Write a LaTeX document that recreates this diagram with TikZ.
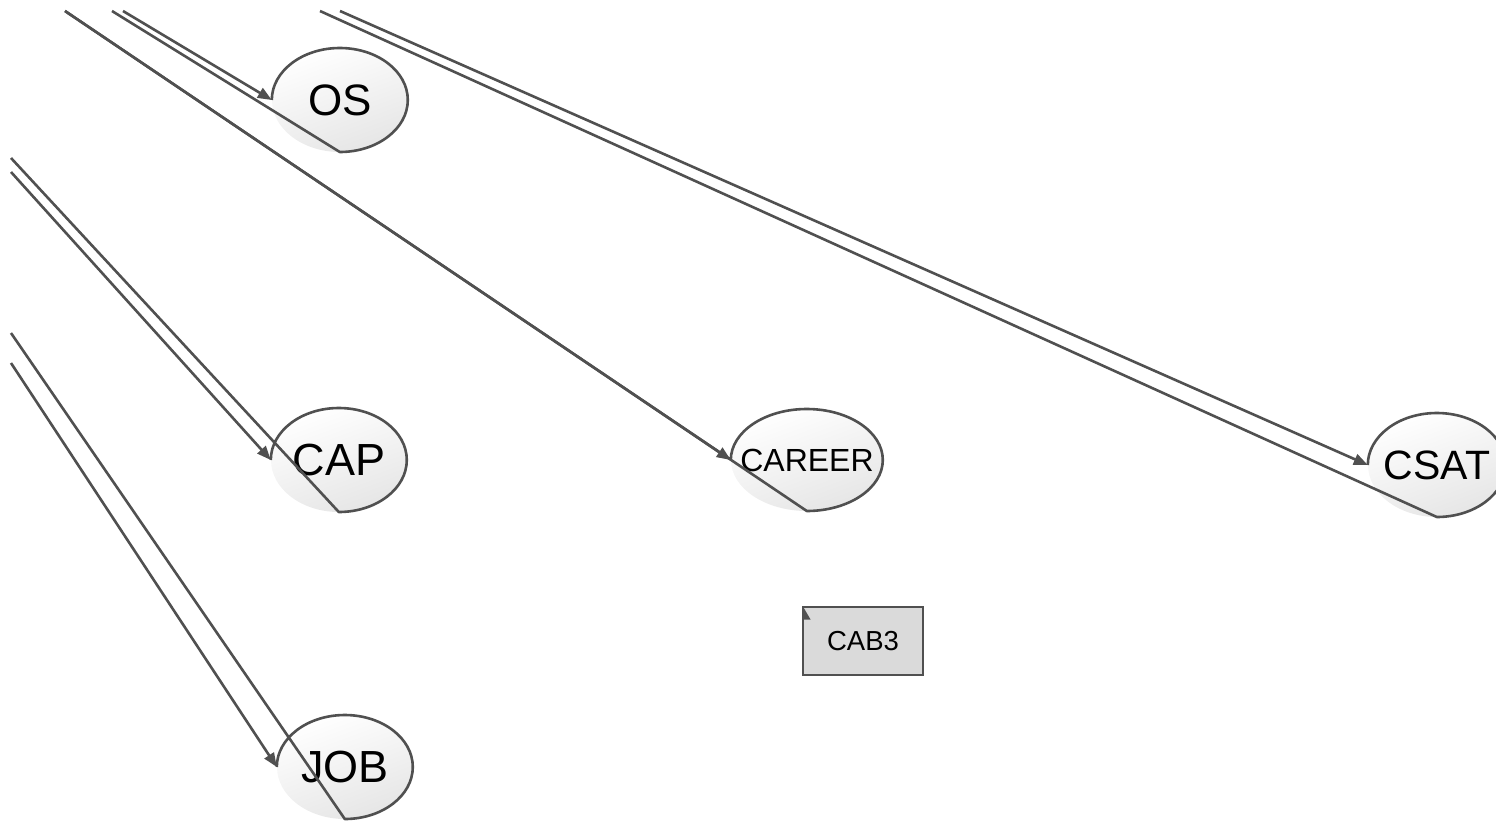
\documentclass[tikz,border=0pt]{standalone}
\usepackage{fontspec}
\setmainfont{Liberation Sans}
\usetikzlibrary{arrows.meta,shapes.geometric}

\definecolor{edge}{HTML}{505050}
\definecolor{boxfill}{HTML}{DADADA}

\tikzset{
  latent/.style={ellipse, inner sep=0pt, top color=white, bottom color=black!10,
                 shading angle=20},
  ln/.style={draw=edge, line width=2.6pt, line join=round},
  arr/.style={ln, -{Triangle[length=14pt,width=11pt]}},
  observed/.style={rectangle, draw=edge, line width=2.8pt, fill=boxfill,
                   minimum width=120pt, minimum height=68pt, inner sep=0pt,
                   font=\fontsize{27.5}{27.5}\selectfont},
}
% label of fixed zero width, so the ellipse keeps its given size
\newcommand{\lbl}[1]{\makebox[0pt]{#1}}

\begin{document}
\begin{tikzpicture}[x=1pt,y=-1pt]
  \useasboundingbox (0,0) rectangle (1496,822);
  \clip (0,0) rectangle (1496,822);

  % latent variables
  \node[latent, minimum width=136pt, minimum height=104pt,
        font=\fontsize{44}{44}\selectfont] (os) at (340,100) {\lbl{OS}};
  \node[latent, minimum width=136pt, minimum height=104pt,
        font=\fontsize{45}{45}\selectfont] (cap) at (339,460) {\lbl{CAP}};
  \node[latent, minimum width=136pt, minimum height=104pt,
        font=\fontsize{45}{45}\selectfont] (job) at (345,767) {\lbl{JOB}};
  \node[latent, minimum width=152pt, minimum height=102pt,
        font=\fontsize{32}{32}\selectfont] (car) at (807,460) {\lbl{CAREER}};
  \node[latent, minimum width=138pt, minimum height=104pt,
        font=\fontsize{41}{41}\selectfont] (csat) at (1437,465) {\lbl{CSAT}};

  % observed variable
  \node[observed] (cab) at (863,641) {CAB3};
  \fill[edge] ([shift={(2pt,-2pt)}]cab.north west) -- ++(7pt,-12pt) -- ++(-7pt,0pt) -- cycle;

  % path origins at the picture edge
  \coordinate (sOSa)  at (123,11);
  \coordinate (sOSb)  at (112,11);
  \coordinate (sCAR)  at (65,11);
  \coordinate (sCSa)  at (340,11);
  \coordinate (sCSb)  at (320,11);
  \coordinate (sCAPa) at (11,172);
  \coordinate (sCAPb) at (11,158);
  \coordinate (sJOBa) at (11,363);
  \coordinate (sJOBb) at (11,333);

  % outlines: arc from west over the top to south, then back to the origin
  \draw[ln] (os.west) arc[start angle=180, end angle=-90, x radius=68pt, y radius=52pt] -- (sOSb);
  \draw[ln] (cap.west) arc[start angle=180, end angle=-90, x radius=68pt, y radius=52pt] -- (sCAPb);
  \draw[ln] (job.west) arc[start angle=180, end angle=-90, x radius=68pt, y radius=52pt] -- (sJOBb);
  \draw[ln] (car.west) arc[start angle=180, end angle=-90, x radius=76pt, y radius=51pt] -- (sCAR);
  \draw[ln] (csat.west) arc[start angle=180, end angle=-90, x radius=69pt, y radius=52pt] -- (sCSb);

  % paths
  \draw[arr] (sOSa)  -- (os.west);
  \draw[arr] (sCAPa) -- (cap.west);
  \draw[arr] (sJOBa) -- (job.west);
  \draw[arr] (sCAR)  -- (car.west);
  \draw[arr] (sCSa)  -- (csat.west);
\end{tikzpicture}
\end{document}
